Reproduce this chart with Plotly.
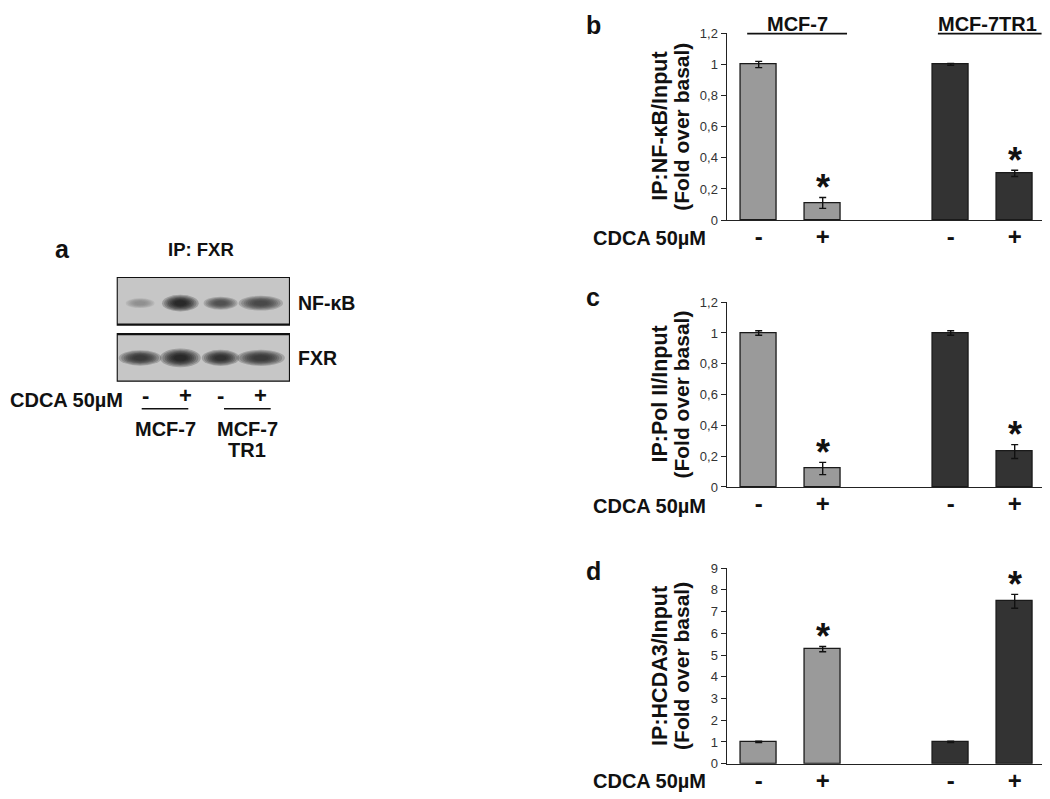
import plotly.graph_objects as go

W, H = 1050, 799
OFF = 8  # default page body margin around the figure

# ---------------- data ----------------
groups = ["MCF-7", "MCF-7TR1"]
treatments = ["-", "+"]

nfkb_mcf7 = [1.00, 0.11]
nfkb_mcf7_err = [0.02, 0.035]
nfkb_tr1 = [1.00, 0.30]
nfkb_tr1_err = [0.006, 0.02]

pol2_mcf7 = [1.00, 0.12]
pol2_mcf7_err = [0.015, 0.04]
pol2_tr1 = [1.00, 0.23]
pol2_tr1_err = [0.015, 0.045]

hcda3_mcf7 = [1.00, 5.27]
hcda3_mcf7_err = [0.03, 0.12]
hcda3_tr1 = [1.00, 7.47]
hcda3_tr1_err = [0.03, 0.32]

significant = [False, True]

blot_lanes = [1, 2, 3, 4]
nfkb_band_intensity = [0.35, 1.0, 0.75, 0.8]
nfkb_band_width = [0.55, 0.70, 0.65, 0.85]
nfkb_band_height = [0.16, 0.27, 0.21, 0.24]
fxr_band_intensity = [0.9, 1.0, 0.95, 0.9]
fxr_band_width = [0.82, 0.78, 0.72, 0.92]
fxr_band_height = [0.25, 0.30, 0.26, 0.26]

# ---------------- helpers ----------------
FONT = "Liberation Sans, Arial, sans-serif"
GRAY = "#9a9a9a"
DARK = "#333333"


def px(x):
    return (x - OFF) / W


def py(y):
    return 1 - (y - OFF) / H


fig = go.Figure()
annotations = []
shapes = []

panels = [
    dict(s="", letter="b", dom=(217, 26.7), rng=[0, 1.2], dtick=0.2,
         t1="IP:NF-κB/Input", data=(nfkb_mcf7, nfkb_mcf7_err, nfkb_tr1, nfkb_tr1_err),
         letter_y=18, cdca_y=235),
    dict(s="2", letter="c", dom=(489, 300.7), rng=[0, 1.2], dtick=0.2,
         t1="IP:Pol II/Input", data=(pol2_mcf7, pol2_mcf7_err, pol2_tr1, pol2_tr1_err),
         letter_y=295, cdca_y=508),
    dict(s="3", letter="d", dom=(771, 571.7), rng=[0, 9], dtick=1,
         t1="IP:HCDA3/Input", data=(hcda3_mcf7, hcda3_mcf7_err, hcda3_tr1, hcda3_tr1_err),
         letter_y=575, cdca_y=789),
]

xdom = [px(726.7), px(1046.7)]

layout_axes = {}
for p in panels:
    s = p["s"]
    xa, ya = "x" + s, "y" + s
    m_vals, m_err, t_vals, t_err = p["data"]
    for gi, (vals, errs, col) in enumerate([(m_vals, m_err, GRAY), (t_vals, t_err, DARK)]):
        xs = [gi * 3 + i for i in range(len(treatments))]
        fig.add_trace(go.Bar(
            x=xs, y=vals, width=0.555, xaxis=xa, yaxis=ya,
            marker=dict(color=col, line=dict(color="#1a1a1a", width=1.3)),
            error_y=dict(type="data", array=errs, visible=True, color="#111111",
                         thickness=1.4, width=3.5),
            showlegend=False, name=groups[gi],
        ))
        for i, (v, e, sig) in enumerate(zip(vals, errs, significant)):
            if sig:
                annotations.append(dict(
                    x=xs[i], y=v + e, xref=xa, yref=ya, text="<b>*</b>",
                    showarrow=False, yanchor="middle", yshift=10,
                    font=dict(family=FONT, size=36, color="#111111")))
    dom = [py(p["dom"][0]), py(p["dom"][1])]
    layout_axes["xaxis" + s] = dict(
        domain=xdom, range=[-0.5, 4.5], anchor=ya, showline=True, linecolor="#222222",
        linewidth=1.3, ticks="", tickvals=[0, 1, 3, 4], ticktext=treatments * 2,
        tickfont=dict(family=FONT, size=24, color="#111111", weight="bold"),
        ticklabelstandoff=-5,
        showgrid=False, zeroline=False, fixedrange=True)
    layout_axes["yaxis" + s] = dict(
        domain=dom, range=p["rng"], dtick=p["dtick"], anchor=xa, showline=True,
        linecolor="#222222", linewidth=1.3, ticks="outside", ticklen=5, tickcolor="#222222",
        tickfont=dict(family=FONT, size=13, color="#333333"),
        showgrid=False, zeroline=False, fixedrange=True)
    ymid = (dom[0] + dom[1]) / 2
    annotations.append(dict(x=px(660), y=ymid, xref="paper", yref="paper", text="<b>" + p["t1"] + "</b>",
                            textangle=-90, showarrow=False, xanchor="center", yanchor="middle",
                            font=dict(family=FONT, size=21.5, color="#111111")))
    annotations.append(dict(x=px(682), y=ymid, xref="paper", yref="paper", text="<b>(Fold over basal)</b>",
                            textangle=-90, showarrow=False, xanchor="center", yanchor="middle",
                            font=dict(family=FONT, size=21, color="#111111")))
    annotations.append(dict(x=px(593), y=py(p["letter_y"]), xref="paper", yref="paper",
                            text="<b>" + p["letter"] + "</b>", showarrow=False,
                            xanchor="center", yanchor="middle",
                            font=dict(family=FONT, size=25, color="#111111")))
    annotations.append(dict(x=px(591), y=py(p["cdca_y"]), xref="paper", yref="paper",
                            text="<b>CDCA 50µM</b>", showarrow=False,
                            xanchor="left", yanchor="middle",
                            font=dict(family=FONT, size=20, color="#111111")))

# group headers on panel b
for label, xc, x0, x1 in [(groups[0], 0.6, -0.18, 1.38), (groups[1], 3.57, 2.8, 4.42)]:
    annotations.append(dict(x=xc, y=py(17), xref="x", yref="paper", text="<b>" + label + "</b>",
                            showarrow=False, xanchor="center", yanchor="middle",
                            font=dict(family=FONT, size=20, color="#111111")))
    shapes.append(dict(type="line", xref="x", yref="paper", x0=x0, x1=x1, y0=py(27), y1=py(27),
                       line=dict(color="#111111", width=1.6)))

# ---------------- panel a: western blot ----------------
layout_axes["xaxis4"] = dict(domain=[px(116.7), px(290)], range=[0.4175, 4.725], anchor="y4",
                             visible=False, fixedrange=True)
layout_axes["yaxis4"] = dict(domain=[py(381.7), py(275)], range=[0, 2.2], anchor="x4",
                             visible=False, fixedrange=True)
BG = 198
for y0, y1 in [(0, 1), (1.2, 2.2)]:
    shapes.append(dict(type="rect", xref="x4", yref="y4", x0=0.4175, x1=4.725, y0=y0, y1=y1,
                       fillcolor="rgb(%d,%d,%d)" % (BG, BG, BG), line=dict(color="#111111", width=2.2),
                       layer="below"))


def add_bands(yc, intens, widths, heights):
    for lane, it, w, h in zip(blot_lanes, intens, widths, heights):
        core = int(BG - (BG - 20) * it)
        for scale in [1.3, 1.15, 1.0, 0.88, 0.76, 0.64, 0.52, 0.4]:
            shapes.append(dict(type="circle", xref="x4", yref="y4",
                               x0=lane - w * scale / 2, x1=lane + w * scale / 2,
                               y0=yc - h * scale / 2, y1=yc + h * scale / 2,
                               fillcolor="rgb(%d,%d,%d)" % (core, core, core), opacity=0.22,
                               line=dict(width=0), layer="above"))


fig.add_trace(go.Scatter(x=blot_lanes, y=[0.5] * 4, xaxis="x4", yaxis="y4", mode="markers",
                         marker=dict(size=1, color="rgba(0,0,0,0)"), showlegend=False, hoverinfo="skip"))
add_bands(1.65, nfkb_band_intensity, nfkb_band_width, nfkb_band_height)
add_bands(0.5, fxr_band_intensity, fxr_band_width, fxr_band_height)


def txt(x, y, t, size, anchor="center"):
    annotations.append(dict(x=px(x), y=py(y), xref="paper", yref="paper", text="<b>" + t + "</b>",
                            showarrow=False, xanchor=anchor, yanchor="middle",
                            font=dict(family=FONT, size=size, color="#111111")))


txt(62, 246, "a", 25)
txt(201, 247, "IP: FXR", 18.5)
txt(296, 302, "NF-κB", 19.5, "left")
txt(296, 358, "FXR", 19.5, "left")
txt(8, 400, "CDCA 50µM", 20, "left")
for xx, t in zip([145.7, 185.7, 220.5, 260], treatments * 2):
    txt(xx, 396, t, 22)
for x0, x1 in [(141.7, 188.3), (224, 270.7)]:
    shapes.append(dict(type="line", xref="paper", yref="paper", x0=px(x0), x1=px(x1),
                       y0=py(409.3), y1=py(409.3), line=dict(color="#111111", width=1.6)))
txt(165.7, 430, "MCF-7", 20)
txt(247.3, 430, "MCF-7", 20)
txt(247.3, 451, "TR1", 20)

fig.update_layout(
    width=W, height=H, margin=dict(l=0, r=0, t=0, b=0),
    paper_bgcolor="white", plot_bgcolor="white",
    separators=",.", showlegend=False, bargap=0,
    font=dict(family=FONT, color="#111111"),
    annotations=annotations, shapes=shapes,
    **layout_axes,
)

fig.write_html("out.html")
